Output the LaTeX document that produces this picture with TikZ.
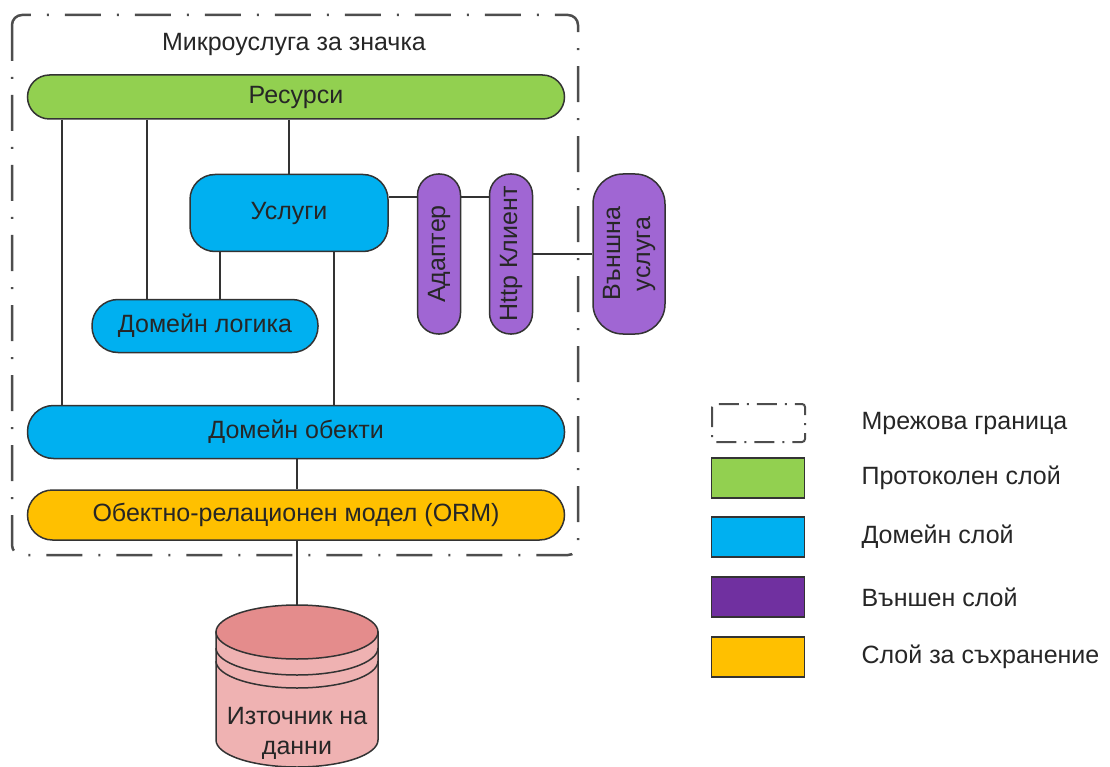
\documentclass[tikz,border=0pt]{standalone}
\usepackage{fontspec}
\setmainfont{Liberation Sans}
\usetikzlibrary{calc}

\definecolor{edgec}{HTML}{333333}
\definecolor{textc}{HTML}{262626}
\definecolor{bordc}{HTML}{4D4D4D}
\definecolor{protoc}{HTML}{92D050}
\definecolor{domainc}{HTML}{00B0F0}
\definecolor{extc}{HTML}{A066D3}
\definecolor{extlegc}{HTML}{7030A0}
\definecolor{storec}{HTML}{FFC000}
\definecolor{cyltop}{HTML}{E48C8C}
\definecolor{cylbody}{HTML}{EFB2B2}

\tikzset{
  txt/.style={font=\fontsize{25}{30}\selectfont, text=textc},
  layer/.style={txt, draw=edgec, line width=1.5pt, inner sep=0pt, align=center},
  pill/.style={layer, rounded corners=#1},
  protofill/.style={fill=protoc},
  domfill/.style={fill=domainc},
  extfill/.style={fill=extc, rotate=90, minimum width=160pt},
  storefill/.style={fill=storec},
  link/.style={draw=edgec, line width=1.5pt},
  netborder/.style={draw=bordc, line width=2.5pt,
    dash pattern=on 36pt off 16pt on 2pt off 16pt},
  legborder/.style={draw=bordc, line width=2pt,
    dash pattern=on 20pt off 8pt on 2pt off 8pt},
  legbox/.style={draw=edgec, line width=1.5pt, minimum width=93pt,
    minimum height=40pt, inner sep=0pt},
  legtext/.style={txt, anchor=west},
}

\begin{document}
\begin{tikzpicture}[x=1pt, y=-1pt]
\useasboundingbox (0,0) rectangle (1110,767);
\clip (0,0) rectangle (1110,767);

% network boundary of the microservice
\draw[netborder, rounded corners=10pt] (12,15) rectangle (578,555);
\node[txt] (title) at (294,44) {Микроуслуга за значка};

% layers
\node[pill=22pt, protofill, minimum width=537pt, minimum height=44pt] (res) at (296,97) {Ресурси};
\node[pill=25pt, domfill, minimum width=198pt, minimum height=77pt] (usl) at (289,213) {Услуги};
\node[pill=26pt, domfill, minimum width=226pt, minimum height=53pt] (dlog) at (205,326) {Домейн логика};
\node[pill=26pt, domfill, minimum width=537pt, minimum height=53pt] (dobj) at (296,432) {Домейн обекти};
\node[pill=25pt, storefill, minimum width=537pt, minimum height=50pt] (orm) at (296,515) {Обектно-релационен модел (ORM)};

% external side (rotated nodes: north is the left side, south the right side)
\node[pill=21pt, extfill, minimum height=43pt] (adapt) at (439,254) {Адаптер};
\node[pill=21pt, extfill, minimum height=43pt] (http) at (511,254) {Http Клиент};
\node[pill=30pt, extfill, minimum height=72pt] (extsvc) at (629,254) {Външна\\услуга};

% data source cylinder
\path[fill=cylbody, draw=edgec, line width=1.5pt]
  (216,632) -- (216,740) arc[start angle=180, end angle=0, x radius=81, y radius=27]
  -- (378,632) -- cycle;
\draw[edgec, line width=1.5pt] (216,648) arc[start angle=180, end angle=0, x radius=81, y radius=27];
\draw[edgec, line width=1.5pt] (216,661) arc[start angle=180, end angle=0, x radius=81, y radius=27];
\draw[fill=cyltop, draw=edgec, line width=1.5pt] (297,632) ellipse[x radius=81, y radius=27];
\coordinate (dbtop) at (297,605);
\node[txt, align=center] (db) at (297,733) {Източник на\\данни};

% connectors
\draw[link] (res.south -| 62,0) -- (dobj.north -| 62,0);
\draw[link] (res.south -| 147,0) -- (dlog.north -| 147,0);
\draw[link] (res.south -| 289,0) -- (usl.north);
\draw[link] (usl.south -| 220,0) -- (dlog.north -| 220,0);
\draw[link] (usl.south -| 334,0) -- (dobj.north -| 334,0);
\draw[link] (usl.east |- 0,197) -- (adapt.north |- 0,197);
\draw[link] (adapt.south |- 0,197) -- (http.north |- 0,197);
\draw[link] (http.south |- 0,254) -- (extsvc.north |- 0,254);
\draw[link] (dobj.south -| 297,0) -- (orm.north -| 297,0);
\draw[link] (orm.south -| 297,0) -- (dbtop);

% legend
\draw[legborder, rounded corners=3pt] (712,404) rectangle (805,442);
\node[legtext] (l1) at (858,423) {Мрежова граница};
\node[legbox, fill=protoc] (b2) at (758,478) {};
\node[legtext] (l2) at (858,478) {Протоколен слой};
\node[legbox, fill=domainc] (b3) at (758,537) {};
\node[legtext] (l3) at (858,537) {Домейн слой};
\node[legbox, fill=extlegc] (b4) at (758,597) {};
\node[legtext] (l4) at (858,597) {Външен слой};
\node[legbox, fill=storec] (b5) at (758,657) {};
\node[legtext] (l5) at (858,657) {Слой за съхранение};
\end{tikzpicture}
\end{document}
